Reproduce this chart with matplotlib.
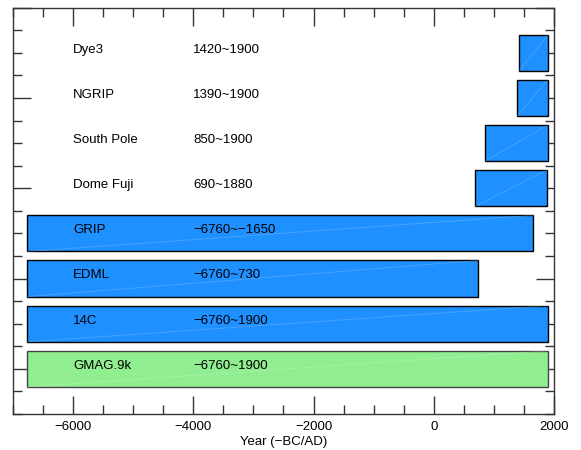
import matplotlib
matplotlib.use("Agg")
import matplotlib.pyplot as plt
from matplotlib.ticker import MultipleLocator

plt.rcParams['font.family'] = ['Liberation Sans', 'DejaVu Sans']
plt.rcParams['axes.unicode_minus'] = True

# records, bottom to top
names = ['GMAG.9k', '14C', 'EDML', 'GRIP', 'Dome Fuji', 'South Pole', 'NGRIP', 'Dye3']
starts = [-6760, -6760, -6760, -6760, 690, 850, 1390, 1420]
ends = [1900, 1900, 730, 1650, 1880, 1900, 1900, 1900]
range_labels = ['\u22126760~1900', '\u22126760~1900', '\u22126760~730', '\u22126760~\u22121650',
                '690~1880', '850~1900', '1390~1900', '1420~1900']
colors = ['#90EE90', '#1E90FF', '#1E90FF', '#1E90FF', '#1E90FF', '#1E90FF', '#1E90FF', '#1E90FF']
edges = ['#444444', 'black', 'black', 'black', 'black', 'black', 'black', 'black']

fig = plt.figure(figsize=(5.81, 4.5), dpi=100)
ax = fig.add_axes([0.0224, 0.08, 0.931, 0.903])

bar_h = 0.8
for i in range(len(names)):
    width = ends[i] - starts[i]
    ax.barh(i, width, left=starts[i], height=bar_h, color=colors[i],
            edgecolor=edges[i], linewidth=1.0, zorder=2)
    # faint diagonal seam seen in the original rendering
    ax.plot([starts[i], ends[i]], [i - bar_h / 2, i + bar_h / 2],
            color='white', alpha=0.2, linewidth=0.6, zorder=3)
    ax.text(-6000, i + 0.07, names[i], fontsize=9.5, va='center', ha='left', zorder=4)
    ax.text(-4000, i + 0.07, range_labels[i], fontsize=9.5, va='center', ha='left', zorder=4)

ax.set_xlim(-7000, 2000)
ax.set_ylim(-1, 8)
ax.xaxis.set_major_locator(MultipleLocator(2000))
ax.xaxis.set_minor_locator(MultipleLocator(500))
ax.yaxis.set_major_locator(MultipleLocator(2))
ax.yaxis.set_minor_locator(MultipleLocator(0.5))
ax.tick_params(which='both', direction='in', top=True, right=True, color='#333333',
               labelleft=False, labelsize=9.5)
ax.tick_params(which='major', length=13, width=1)
ax.tick_params(which='minor', length=6.5, width=1)
ax.tick_params(axis='x', pad=5)
for s in ax.spines.values():
    s.set_color('#333333')
    s.set_linewidth(1.0)

ax.set_xlabel('Year (\u2212BC/AD)', fontsize=9.5, labelpad=2)

fig.savefig('out.png', dpi=100)
